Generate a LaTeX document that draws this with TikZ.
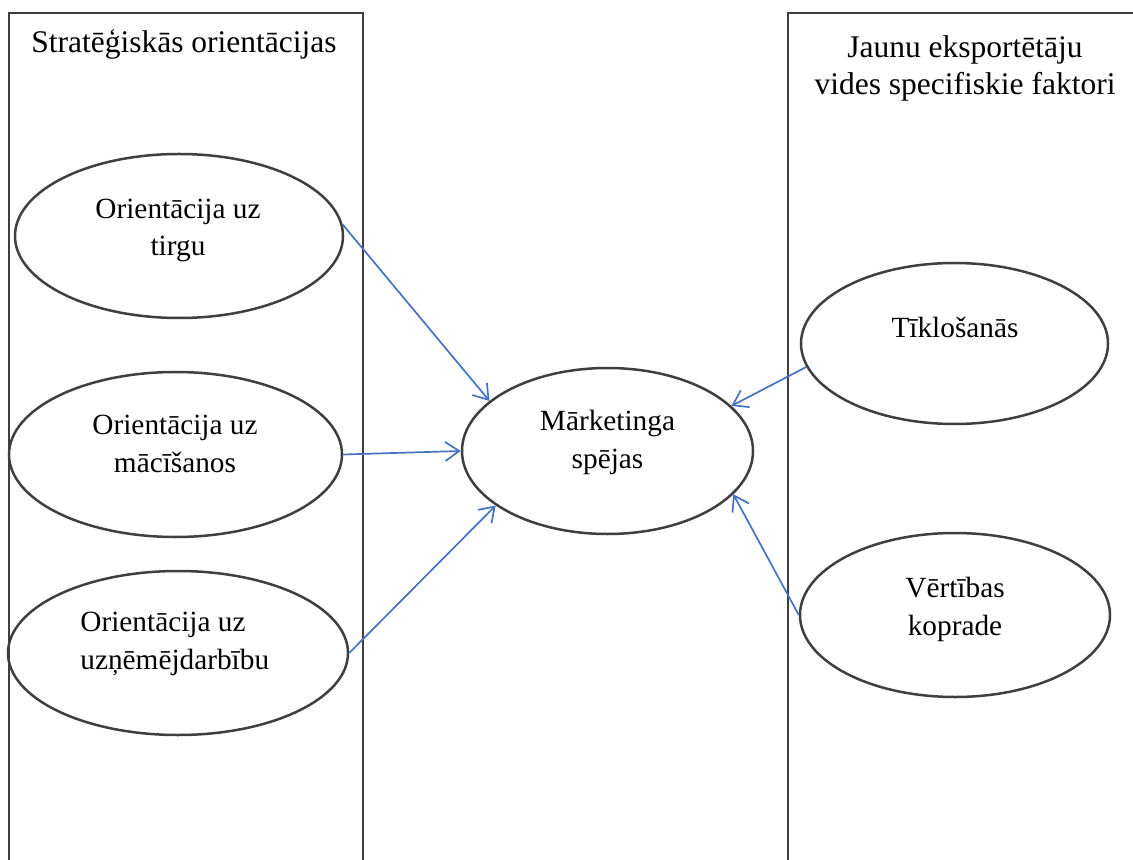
\documentclass[tikz,border=0pt]{standalone}
\usepackage{fontspec}
\setmainfont{Liberation Serif}
\usetikzlibrary{arrows.meta,shapes.geometric}
\definecolor{linegray}{HTML}{3F3F3F}
\definecolor{arrowblue}{HTML}{4472C4}
\begin{document}
\begin{tikzpicture}[x=0.5pt,y=-0.5pt,
  frame/.style={draw=linegray, line width=0.85pt},
  oval/.style={ellipse, draw=linegray, line width=1.25pt, inner sep=0pt},
  lbl/.style={font=\fontsize{14.65pt}{18.8pt}\selectfont, align=center, anchor=base, inner sep=0pt},
  head/.style={font=\fontsize{15.75pt}{18.5pt}\selectfont, align=center, anchor=base, inner sep=0pt},
  arr/.style={draw=arrowblue, line width=0.85pt, -{Straight Barb[length=7pt,width=9.5pt]}}]
\useasboundingbox (0,0) rectangle (1133,860);

% two open column frames
\draw[frame] (9,860) -- (9,13) -- (363,13) -- (363,860);
\draw[frame] (788,860) -- (788,13) -- (1140,13);

% column headings (base anchor = baseline of the last line)
\node[head] (hl) at (184,53) {Stratēģiskās orientācijas};
\node[head] (hr) at (965,95) {Jaunu eksportētāju\\vides specifiskie faktori};

% left column
\node[oval, minimum width=164pt, minimum height=82pt] (t1) at (179,236) {};
\node[lbl] (t1l) at (178,256) {Orientācija uz\\tirgu};
\node[oval, minimum width=166.5pt, minimum height=82.5pt] (t2) at (175.5,454.5) {};
\node[lbl] (t2l) at (175,472) {Orientācija uz\\mācīšanos};
\node[oval, minimum width=170pt, minimum height=82pt] (t3) at (178,653) {};
\node[lbl, align=left, anchor=base west] (t3l) at (80,669) {Orientācija uz\\uzņēmējdarbību};

% centre
\node[oval, minimum width=145.5pt, minimum height=83pt] (c) at (607.5,451) {};
\node[lbl] (cl) at (607.5,468) {Mārketinga\\spējas};

% right column
\node[oval, minimum width=153.5pt, minimum height=80.5pt] (tk) at (954.5,343.5) {};
\node[lbl] (tkl) at (955,338) {Tīklošanās};
\node[oval, minimum width=155pt, minimum height=82pt] (vk) at (955,615) {};
\node[lbl] (vkl) at (955,635) {Vērtības\\koprade};

% influences
\draw[arr] (t1.4) -- (c.157);
\draw[arr] (t2.east) -- (c.west);
\draw[arr] (t3.east) -- (c.206);
\draw[arr] (tk.189) -- (c.20);
\draw[arr] (vk.west) -- (c.341);
\end{tikzpicture}
\end{document}
